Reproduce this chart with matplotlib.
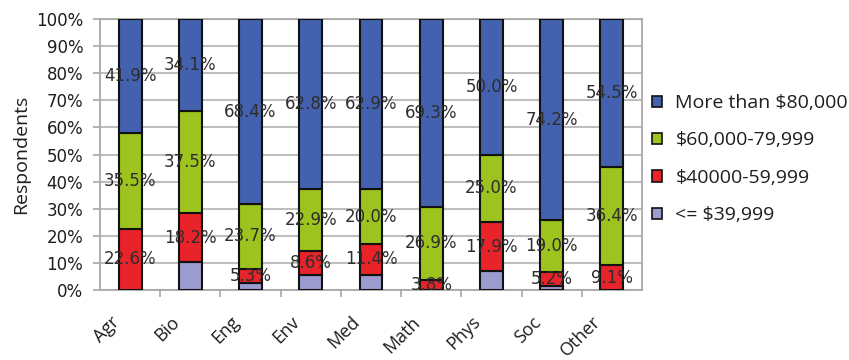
import matplotlib
matplotlib.use("Agg")
import matplotlib.pyplot as plt
import matplotlib.transforms as mtransforms
from matplotlib.patches import Patch
from matplotlib.ticker import PercentFormatter
import numpy as np

# Salary bands per field, stacked bottom to top
fields = ["Agr", "Bio", "Eng", "Env", "Med", "Math", "Phys", "Soc", "Other"]
under_40k = [0.0, 10.2, 2.6, 5.7, 5.7, 0.0, 7.1, 1.6, 0.0]
band_40_60k = [22.6, 18.2, 5.3, 8.6, 11.4, 3.8, 17.9, 5.2, 9.1]
band_60_80k = [35.5, 37.5, 23.7, 22.9, 20.0, 26.9, 25.0, 19.0, 36.4]
over_80k = [41.9, 34.1, 68.4, 62.8, 62.9, 69.3, 50.0, 74.2, 54.5]

band_names = ["<= $39,999", "$40000-59,999", "$60,000-79,999", "More than $80,000"]
band_colors = ["#9B9BD0", "#E8232A", "#9DC31E", "#4361AE"]
band_values = [under_40k, band_40_60k, band_60_80k, over_80k]
labelled = [False, True, True, True]

text_color = "#1E1E1E"

fig = plt.figure(figsize=(8.49, 3.6), dpi=100)
ax = fig.add_axes([100 / 849, 70 / 360, 542 / 849, 271 / 360])

x = np.arange(len(fields))
bottom = np.zeros(len(fields))
for name, color, vals, show in zip(band_names, band_colors, band_values, labelled):
    vals = np.array(vals)
    ax.bar(x, vals, width=0.38, bottom=bottom, color=color,
           edgecolor="#111111", linewidth=1.5, label=name, zorder=3)
    if show:
        for xi, b, v in zip(x, bottom, vals):
            ax.text(xi, b + v / 2, f"{v:.1f}%", ha="center", va="center",
                    fontsize=12, color="#2E2E2E", family="DejaVu Sans", zorder=4)
    bottom += vals

ax.set_xlim(-0.5, len(fields) - 0.5)
ax.set_ylim(0, 100)
ax.set_yticks(np.arange(0, 101, 10))
ax.yaxis.set_major_formatter(PercentFormatter(decimals=0))
ax.grid(axis="y", color="#BEBEBE", linewidth=1.5, zorder=0)
ax.set_axisbelow(True)

for side in ["left", "right", "top", "bottom"]:
    ax.spines[side].set_color("#A8A8A8")
    ax.spines[side].set_linewidth(1.3)

ax.tick_params(axis="y", length=5, width=1.2, color="#A8A8A8",
               labelsize=12, labelcolor=text_color, pad=7)
for t in ax.get_yticklabels():
    t.set_family("DejaVu Sans")

# category boundary ticks below the axis
ax.set_xticks(np.arange(0.5, len(fields) - 0.5), minor=False)
ax.set_xticklabels([])
ax.tick_params(axis="x", which="major", length=5, width=1.2, color="#A8A8A8")
ax.set_xticks(x, minor=True)
ax.set_xticklabels(fields, minor=True, rotation=45, ha="right", va="top",
                   rotation_mode="anchor", fontsize=13, family="Open Sans",
                   color=text_color)
ax.tick_params(axis="x", which="minor", length=0, pad=0)
shift = mtransforms.ScaledTranslation(-0.20, -0.23, fig.dpi_scale_trans)
for t in ax.get_xticklabels(minor=True):
    t.set_transform(t.get_transform() + shift)

ax.set_ylabel("Respondents", fontsize=14, family="Open Sans", color=text_color,
              labelpad=4)

handles = [Patch(facecolor=c, edgecolor="#111111", linewidth=1.2, label=n)
           for n, c in zip(band_names, band_colors)][::-1]
fig.legend(handles=handles, loc="upper left", bbox_to_anchor=(652 / 849, 1 - 94 / 360),
           frameon=False, handlelength=0.5, handleheight=0.5, handletextpad=0.7,
           labelspacing=1.0, prop={"family": "Open Sans", "size": 14},
           labelcolor=text_color, borderaxespad=0, borderpad=0)

fig.savefig("out.png", dpi=100)
